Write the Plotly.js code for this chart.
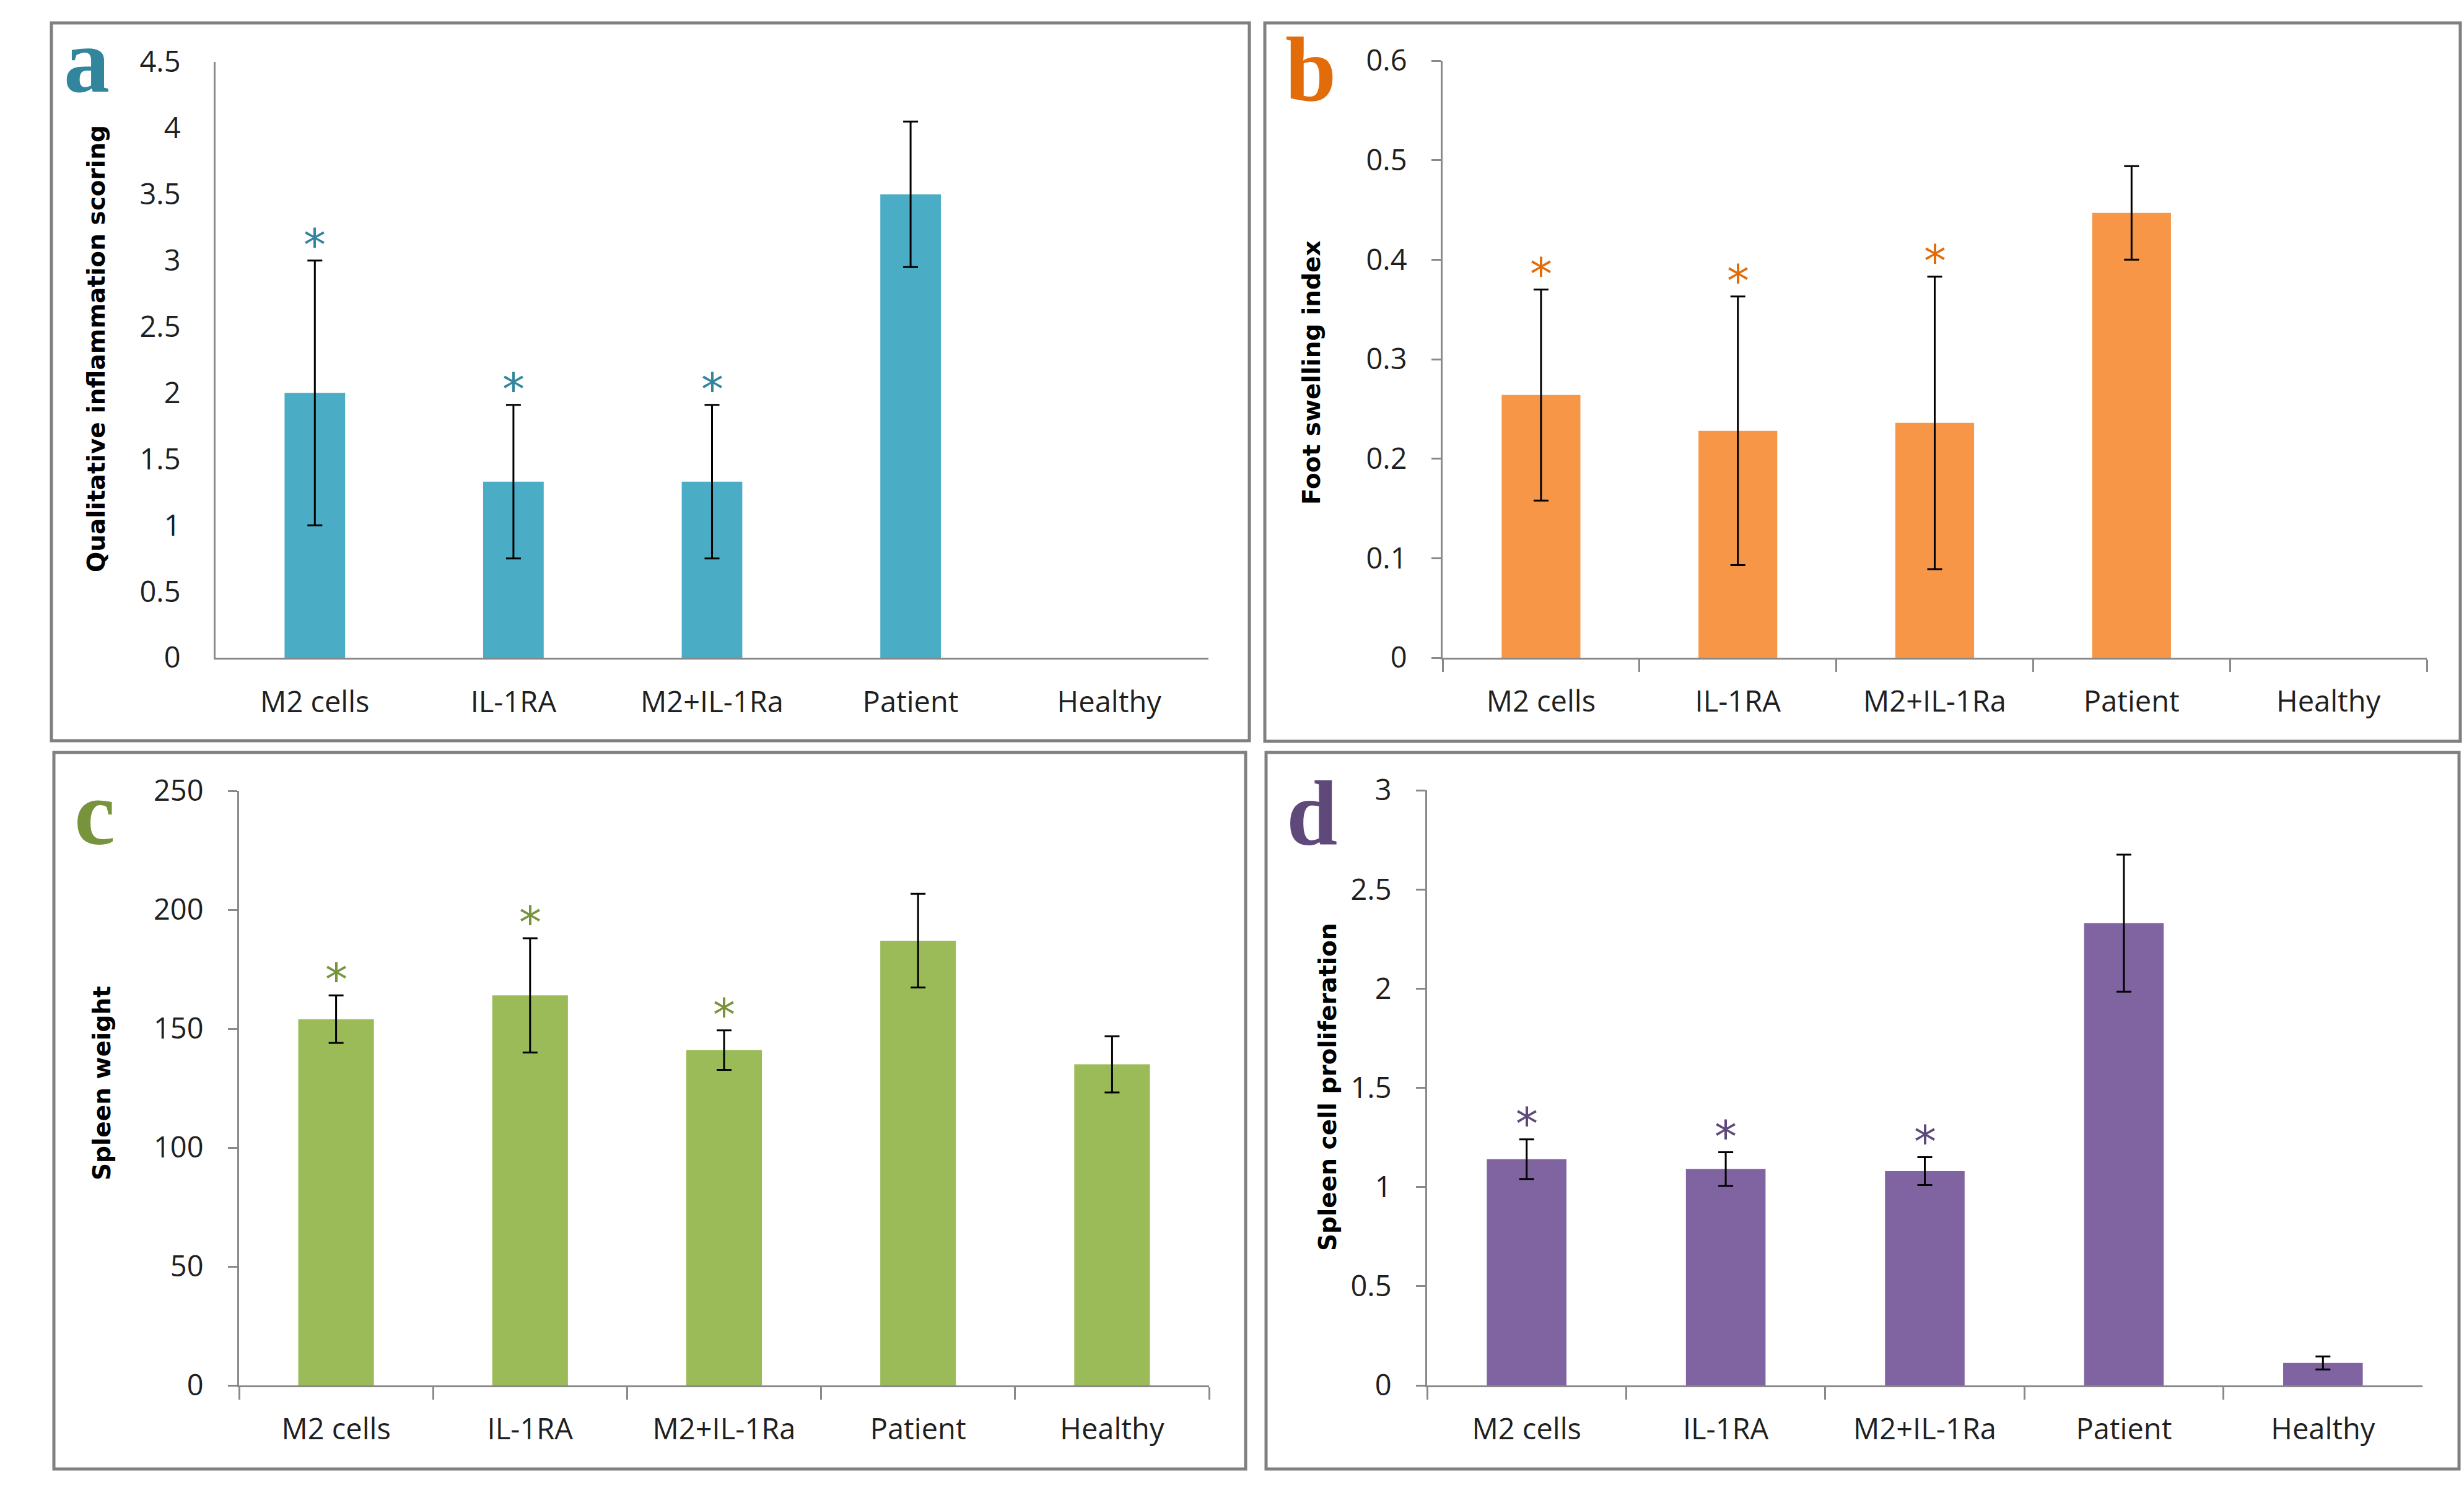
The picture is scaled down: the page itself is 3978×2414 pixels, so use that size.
<!DOCTYPE html>
<html>
<head>
<meta charset="utf-8">
<script src="https://cdn.plot.ly/plotly-3.0.1.min.js"></script>
<style>html,body{margin:0;padding:0;background:#fff;}#chart{width:3978px;height:2414px;}</style>
</head>
<body>
<div id="chart"></div>
<script>
// ---- data ----
const categories = ['M2 cells', 'IL-1RA', 'M2+IL-1Ra', 'Patient', 'Healthy'];
// panel a: qualitative inflammation scoring
const inflammationMean = [2.0, 1.33, 1.33, 3.5, null];
const inflammationErr  = [1.0, 0.58, 0.58, 0.55, null];
// panel b: foot swelling index
const footSwellingMean = [0.264, 0.228, 0.236, 0.447, null];
const footSwellingErr  = [0.106, 0.135, 0.147, 0.047, null];
// panel c: spleen weight
const spleenWeightMean = [154, 164, 141, 187, 135];
const spleenWeightErr  = [10, 24, 8.3, 19.7, 11.8];
// panel d: spleen cell proliferation
const proliferationMean = [1.14, 1.09, 1.08, 2.33, 0.113];
const proliferationErr  = [0.10, 0.085, 0.07, 0.345, 0.033];
// significance markers (*)
const significant = [true, true, true, false, false];

const panelLetters = ['a', 'b', 'c', 'd'];
const yTitles = ['Qualitative inflammation scoring', 'Foot swelling index', 'Spleen weight', 'Spleen cell proliferation'];

// ---- layout / style ----
const W = 3978, H = 2414;
const fx = p => p / W;
const fy = p => 1 - p / H;

const panels = [
  {mean: inflammationMean, err: inflammationErr, bar: '#4BACC6', accent: '#31859C',
   range: [0, 4.5], dtick: 0.5, width: 0.305, ticks: false,
   plot: [348, 100, 1951, 1062], frame: [83, 37, 2017, 1196], letterPos: [140, 98], titlePos: [155, 563]},
  {mean: footSwellingMean, err: footSwellingErr, bar: '#F79646', accent: '#E36C0A',
   range: [0, 0.6], dtick: 0.1, width: 0.4, ticks: true,
   plot: [2329, 98, 3918, 1062], frame: [2042, 37, 3972, 1197], letterPos: [2116, 112], titlePos: [2117, 602]},
  {mean: spleenWeightMean, err: spleenWeightErr, bar: '#9BBB59', accent: '#77933C',
   range: [0, 250], dtick: 50, width: 0.39, ticks: true,
   plot: [386, 1277, 1952, 2237], frame: [87, 1215, 2011, 2372], letterPos: [153, 1313], titlePos: [164, 1749]},
  {mean: proliferationMean, err: proliferationErr, bar: '#8064A2', accent: '#5F497A',
   range: [0, 3], dtick: 0.5, width: 0.4, ticks: true,
   plot: [2304, 1276, 3911, 2237], frame: [2044, 1215, 3970, 2372], letterPos: [2118, 1313], titlePos: [2143, 1755]}
];

const axisColor = '#898989';
const tickFont = {family: 'Open Sans, sans-serif', size: 47, color: '#1f1f1f'};

const data = [];
const layout = {
  width: W, height: H,
  margin: {l: 0, r: 0, t: 0, b: 0},
  paper_bgcolor: '#ffffff', plot_bgcolor: '#ffffff',
  showlegend: false,
  shapes: [], annotations: []
};

panels.forEach((p, i) => {
  const n = i === 0 ? '' : String(i + 1);
  const xa = 'x' + n, ya = 'y' + n;
  data.push({
    type: 'bar', x: categories, y: p.mean, width: p.width,
    xaxis: xa, yaxis: ya,
    marker: {color: p.bar, line: {width: 0}},
    error_y: {type: 'data', array: p.err, visible: true, color: '#000000', thickness: 3, width: 12},
    hoverinfo: 'x+y'
  });
  layout['xaxis' + n] = {
    domain: [fx(p.plot[0]), fx(p.plot[2])], anchor: ya,
    type: 'category', range: [-0.5, 4.5], fixedrange: true,
    showline: true, linecolor: axisColor, linewidth: 3,
    showgrid: false, zeroline: false,
    ticks: p.ticks ? 'outside' : '', tickson: 'boundaries', ticklen: 20, tickwidth: 3, tickcolor: axisColor,
    ticklabelstandoff: p.ticks ? 28 : 29,
    tickfont: tickFont
  };
  layout['yaxis' + n] = {
    domain: [fy(p.plot[3]), fy(p.plot[1])], anchor: xa,
    range: p.range, tick0: 0, dtick: p.dtick, fixedrange: true,
    showline: true, linecolor: axisColor, linewidth: 3,
    showgrid: false, zeroline: false,
    ticks: p.ticks ? 'outside' : '', ticklen: 15, tickwidth: 3, tickcolor: axisColor,
    ticklabelstandoff: p.ticks ? 30 : 44,
    tickfont: tickFont
  };
  // panel frame
  layout.shapes.push({type: 'rect', xref: 'paper', yref: 'paper',
    x0: fx(p.frame[0]), x1: fx(p.frame[2]), y0: fy(p.frame[3]), y1: fy(p.frame[1]),
    line: {color: '#808080', width: 5}, fillcolor: 'rgba(0,0,0,0)'});
  // panel letter
  layout.annotations.push({xref: 'paper', yref: 'paper', x: fx(p.letterPos[0]), y: fy(p.letterPos[1]),
    xanchor: 'center', yanchor: 'middle', showarrow: false, text: '<b>' + panelLetters[i] + '</b>',
    font: {family: 'Liberation Serif, serif', size: 148, color: p.accent}});
  // y-axis title
  layout.annotations.push({xref: 'paper', yref: 'paper', x: fx(p.titlePos[0]), y: fy(p.titlePos[1]),
    xanchor: 'center', yanchor: 'middle', showarrow: false, textangle: -90, text: '<b>' + yTitles[i] + '</b>',
    font: {family: 'DejaVu Sans, sans-serif', size: 39, color: '#000000'}});
  // significance stars above error bars
  categories.forEach((c, k) => {
    if (!significant[k] || p.mean[k] == null) return;
    layout.annotations.push({xref: xa, yref: ya, x: c, y: p.mean[k] + p.err[k],
      xanchor: 'center', yanchor: 'middle', yshift: 26, showarrow: false, text: '*',
      font: {family: 'DejaVu Sans, sans-serif', size: 72, color: p.accent}});
  });
});

Plotly.newPlot('chart', data, layout, {staticPlot: true, displayModeBar: false});
</script>
</body>
</html>
